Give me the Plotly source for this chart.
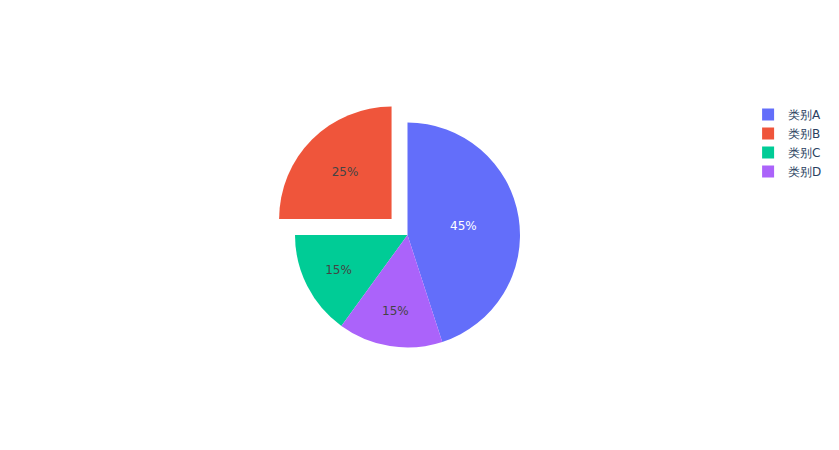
import plotly.graph_objects as go

labels = ["类别A", "类别B", "类别C", "类别D"]
values = [45, 25, 15, 15]
pulls = [0, 0.2, 0, 0]

fig = go.Figure(go.Pie(labels=labels, values=values, pull=pulls))
fig.update_layout(width=839, height=450, font=dict(family="DejaVu Sans, Verdana, sans-serif"))
fig.write_html("out.html", config={"displayModeBar": False},
               post_script="document.body.style.margin='0';")
